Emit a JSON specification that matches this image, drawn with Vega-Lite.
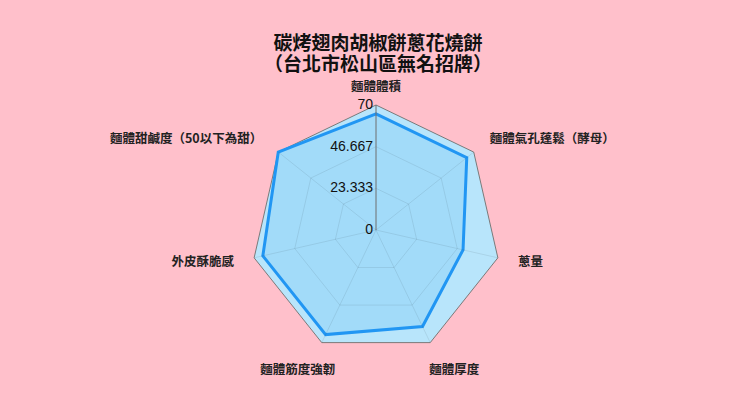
{
  "$schema": "https://vega.github.io/schema/vega-lite/v6.json",
  "width": 740,
  "height": 416,
  "padding": 0,
  "autosize": {"type": "none"},
  "background": "#ffc0cb",
  "title": {
    "text": ["碳烤翅肉胡椒餅蔥花燒餅", "（台北市松山區無名招牌）"],
    "font": "Noto Sans CJK TC",
    "fontSize": 19,
    "fontWeight": "bold",
    "lineHeight": 21,
    "color": "#111111",
    "anchor": "middle",
    "frame": "group",
    "offset": -75,
    "dx": 8
  },
  "config": {"view": {"stroke": null}, "font": "Noto Sans CJK TC"},
  "datasets": {
    "scores": [
      {"k": 0, "cat": "麵體體積", "value": 65},
      {"k": 1, "cat": "麵體氣孔蓬鬆（酵母）", "value": 65},
      {"k": 2, "cat": "蔥量", "value": 50},
      {"k": 3, "cat": "麵體厚度", "value": 60},
      {"k": 4, "cat": "麵體筋度強韌", "value": 65},
      {"k": 5, "cat": "外皮酥脆感", "value": 65},
      {"k": 6, "cat": "麵體甜鹹度（50以下為甜）", "value": 70}
    ],
    "grid": [
      {"k": 0, "value": 23.333}, {"k": 1, "value": 23.333}, {"k": 2, "value": 23.333}, {"k": 3, "value": 23.333},
      {"k": 4, "value": 23.333}, {"k": 5, "value": 23.333}, {"k": 6, "value": 23.333},
      {"k": 0, "value": 46.667}, {"k": 1, "value": 46.667}, {"k": 2, "value": 46.667}, {"k": 3, "value": 46.667},
      {"k": 4, "value": 46.667}, {"k": 5, "value": 46.667}, {"k": 6, "value": 46.667},
      {"k": 0, "value": 70}, {"k": 1, "value": 70}, {"k": 2, "value": 70}, {"k": 3, "value": 70},
      {"k": 4, "value": 70}, {"k": 5, "value": 70}, {"k": 6, "value": 70}
    ],
    "ticks": [
      {"k": 0, "value": 0, "label": "0"},
      {"k": 0, "value": 23.333, "label": "23.333"},
      {"k": 0, "value": 46.667, "label": "46.667"},
      {"k": 0, "value": 70, "label": "70"}
    ]
  },
  "encoding": {
    "x": {"field": "px", "type": "quantitative", "scale": {"domain": [-210.56, 203.84], "nice": false, "zero": false}, "axis": null},
    "y": {"field": "py", "type": "quantitative", "scale": {"domain": [-104.16, 128.8], "nice": false, "zero": false}, "axis": null}
  },
  "layer": [
    {
      "data": {"name": "grid"},
      "transform": [
        {"filter": "datum.value == 70"},
        {"calculate": "datum.k * 2 * PI / 7", "as": "a"},
        {"calculate": "datum.value * sin(datum.a)", "as": "px"},
        {"calculate": "datum.value * cos(datum.a)", "as": "py"}
      ],
      "mark": {"type": "line", "interpolate": "linear-closed", "fill": "#b8e5fb", "stroke": "#7a7a7a", "strokeWidth": 1},
      "encoding": {"order": {"field": "k", "type": "quantitative"}}
    },
    {
      "data": {"name": "scores"},
      "transform": [
        {"calculate": "datum.k * 2 * PI / 7", "as": "a"},
        {"calculate": "datum.value * sin(datum.a)", "as": "px"},
        {"calculate": "datum.value * cos(datum.a)", "as": "py"}
      ],
      "mark": {"type": "line", "interpolate": "linear-closed", "fill": "#a2dbf9", "stroke": "#2196f3", "strokeWidth": 3},
      "encoding": {"order": {"field": "k", "type": "quantitative"}}
    },
    {
      "data": {"name": "grid"},
      "transform": [
        {"filter": "datum.value < 70"},
        {"calculate": "datum.k * 2 * PI / 7", "as": "a"},
        {"calculate": "datum.value * sin(datum.a)", "as": "px"},
        {"calculate": "datum.value * cos(datum.a)", "as": "py"}
      ],
      "mark": {"type": "line", "interpolate": "linear-closed", "stroke": "#000000", "strokeOpacity": 0.08, "strokeWidth": 1},
      "encoding": {
        "order": {"field": "k", "type": "quantitative"},
        "detail": {"field": "value", "type": "nominal"}
      }
    },
    {
      "data": {"name": "grid"},
      "transform": [
        {"filter": "datum.value == 70 && datum.k > 0"},
        {"calculate": "datum.k * 2 * PI / 7", "as": "a"},
        {"calculate": "datum.value * sin(datum.a)", "as": "px"},
        {"calculate": "datum.value * cos(datum.a)", "as": "py"}
      ],
      "mark": {"type": "rule", "stroke": "#000000", "strokeOpacity": 0.08, "strokeWidth": 1},
      "encoding": {"x2": {"datum": 0}, "y2": {"datum": 0}}
    },
    {
      "data": {"name": "grid"},
      "transform": [
        {"filter": "datum.value == 70 && datum.k == 0"},
        {"calculate": "0", "as": "px"},
        {"calculate": "datum.value", "as": "py"}
      ],
      "mark": {"type": "rule", "stroke": "#6e6e6e", "strokeWidth": 1},
      "encoding": {"x2": {"datum": 0}, "y2": {"datum": 0}}
    },
    {
      "data": {"name": "ticks"},
      "transform": [
        {"calculate": "0", "as": "px"},
        {"calculate": "datum.value", "as": "py"}
      ],
      "mark": {"type": "text", "align": "right", "baseline": "middle", "dx": -3, "font": "Liberation Sans", "fontSize": 14, "color": "#111111"},
      "encoding": {"text": {"field": "label", "type": "nominal"}}
    },
    {
      "data": {"name": "scores"},
      "transform": [
        {"filter": "datum.k == 1 || datum.k == 2"},
        {"calculate": "datum.k * 2 * PI / 7", "as": "a"},
        {"calculate": "81.5 * sin(datum.a)", "as": "px"},
        {"calculate": "81.5 * cos(datum.a)", "as": "py"}
      ],
      "mark": {"type": "text", "align": "left", "baseline": "middle", "fontSize": 12.5, "fontWeight": "bold", "color": "#222222"},
      "encoding": {"text": {"field": "cat", "type": "nominal"}}
    },
    {
      "data": {"name": "scores"},
      "transform": [
        {"filter": "datum.k == 5 || datum.k == 6"},
        {"calculate": "datum.k * 2 * PI / 7", "as": "a"},
        {"calculate": "81.5 * sin(datum.a)", "as": "px"},
        {"calculate": "81.5 * cos(datum.a)", "as": "py"}
      ],
      "mark": {"type": "text", "align": "right", "baseline": "middle", "fontSize": 12.5, "fontWeight": "bold", "color": "#222222"},
      "encoding": {"text": {"field": "cat", "type": "nominal"}}
    },
    {
      "data": {"name": "scores"},
      "transform": [
        {"filter": "datum.k == 0"},
        {"calculate": "0", "as": "px"},
        {"calculate": "80", "as": "py"}
      ],
      "mark": {"type": "text", "align": "center", "baseline": "middle", "fontSize": 12.5, "fontWeight": "bold", "color": "#222222"},
      "encoding": {"text": {"field": "cat", "type": "nominal"}}
    },
    {
      "data": {"name": "scores"},
      "transform": [
        {"filter": "datum.k == 3 || datum.k == 4"},
        {"calculate": "datum.k * 2 * PI / 7", "as": "a"},
        {"calculate": "101 * sin(datum.a)", "as": "px"},
        {"calculate": "81.5 * cos(datum.a)", "as": "py"}
      ],
      "mark": {"type": "text", "align": "center", "baseline": "middle", "dy": 9, "fontSize": 12.5, "fontWeight": "bold", "color": "#222222"},
      "encoding": {"text": {"field": "cat", "type": "nominal"}}
    }
  ]
}
